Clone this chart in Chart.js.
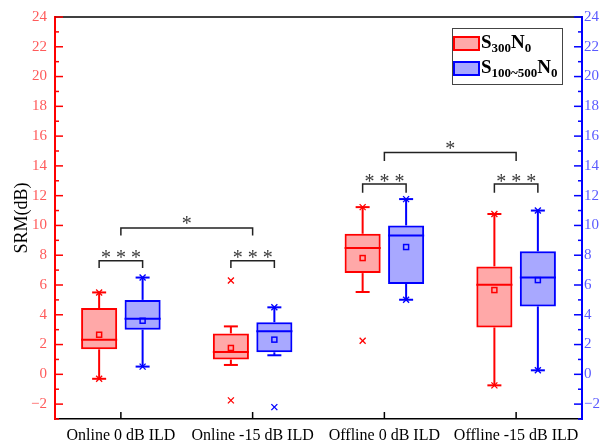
<!DOCTYPE html>
<html>
<head>
<meta charset="utf-8">
<script src="https://cdn.jsdelivr.net/npm/chart.js@4.4.0/dist/chart.umd.min.js"></script>
<style>
  html, body { margin: 0; padding: 0; background: #fff; }
  #wrap { width: 608px; height: 446px; position: relative; }
</style>
</head>
<body>
<div id="wrap"><canvas id="chart"></canvas></div>
<script>
// Categories along x
const categories = ['Online 0 dB ILD', 'Online -15 dB ILD', 'Offline 0 dB ILD', 'Offline -15 dB ILD'];

// S300N0 (red) box statistics
const s300Min    = [-0.30, -1.75, 2.26, -0.74];
const s300Low    = [-0.30, 0.63, 5.53, -0.74];
const s300Q1     = [1.68, 0.99, 6.80, 3.15];
const s300Median = [2.33, 1.50, 8.48, 6.02];
const s300Q3     = [4.45, 2.75, 9.44, 7.25];
const s300High   = [5.50, 3.22, 11.23, 10.77];
const s300Max    = [5.50, 6.30, 11.23, 10.77];
const s300Mean   = [2.66, 1.77, 7.81, 5.66];

// S100~500N0 (blue) box statistics
const s100Min    = [0.52, -2.20, 5.01, 0.27];
const s100Low    = [0.52, 1.28, 5.01, 0.27];
const s100Q1     = [3.00, 1.48, 6.07, 4.56];
const s100Median = [3.73, 2.89, 9.33, 6.51];
const s100Q3     = [5.00, 3.50, 10.00, 8.26];
const s100High   = [6.50, 4.50, 11.77, 11.00];
const s100Max    = [6.50, 4.50, 11.77, 11.00];
const s100Mean   = [3.60, 2.33, 8.55, 6.33];

// y axis range
const yMin = -3;
const yMax = 24;

// significance brackets between the two boxes of one category
const pairCats  = [0, 1, 2, 3];
const pairTop   = [7.63, 7.63, 12.78, 12.78];
const pairLeg   = [7.14, 7.14, 12.20, 12.20];
const pairLabel = ['* * *', '* * *', '* * *', '* * *'];

// significance brackets between two categories
const groupFrom  = [0, 2];
const groupTo    = [1, 3];
const groupTop   = [9.83, 14.90];
const groupLeg   = [9.33, 14.32];
const groupLabel = ['*', '*'];

const RED = '#ff0000';
const BLUE = '#0000ff';
const SERIF = '"Liberation Serif", "Times New Roman", serif';

const series = [
    { color: RED, fill: 'rgba(255,0,0,0.34)', sub: '300',
      min: s300Min, low: s300Low, q1: s300Q1, median: s300Median, q3: s300Q3, high: s300High, max: s300Max, mean: s300Mean },
    { color: BLUE, fill: 'rgba(0,0,255,0.34)', sub: '100~500',
      min: s100Min, low: s100Low, q1: s100Q1, median: s100Median, q3: s100Q3, high: s100High, max: s100Max, mean: s100Mean }
];

function line(ctx, x1, y1, x2, y2) {
    ctx.beginPath();
    ctx.moveTo(x1, y1);
    ctx.lineTo(x2, y2);
    ctx.stroke();
}

function cross(ctx, x, y, r) {
    line(ctx, x - r, y - r, x + r, y + r);
    line(ctx, x - r, y + r, x + r, y - r);
}

function drawStars(ctx, text, x, yCenter) {
    ctx.font = '20px ' + SERIF;
    ctx.fillStyle = '#3a3a3a';
    ctx.textAlign = 'center';
    ctx.textBaseline = 'alphabetic';
    ctx.fillText(text, x, yCenter + 10.5);
}

const boxPlugin = {
    id: 'boxExtras',
    afterDatasetsDraw(chart) {
        const ctx = chart.ctx;
        const y = chart.scales.y;
        series.forEach((s, di) => {
            const meta = chart.getDatasetMeta(di);
            meta.data.forEach((bar, i) => {
                const x = bar.x, half = bar.width / 2;
                ctx.save();
                ctx.strokeStyle = s.color;
                ctx.lineWidth = 2;
                const ym = y.getPixelForValue(s.median[i]);
                line(ctx, x - half, ym, x + half, ym);
                // whiskers
                const yHi = y.getPixelForValue(s.high[i]);
                const yLo = y.getPixelForValue(s.low[i]);
                line(ctx, x, y.getPixelForValue(s.q3[i]), x, yHi);
                line(ctx, x, y.getPixelForValue(s.q1[i]), x, yLo);
                line(ctx, x - 7, yHi, x + 7, yHi);
                line(ctx, x - 7, yLo, x + 7, yLo);
                // min / max markers
                ctx.lineWidth = 1.3;
                cross(ctx, x, y.getPixelForValue(s.min[i]), 3);
                cross(ctx, x, y.getPixelForValue(s.max[i]), 3);
                // mean
                ctx.lineWidth = 1.5;
                const yMean = y.getPixelForValue(s.mean[i]);
                ctx.strokeRect(x - 2.5, yMean - 2.5, 5, 5);
                ctx.restore();
            });
        });
    },
    afterDraw(chart) {
        const ctx = chart.ctx;
        const area = chart.chartArea;
        const y = chart.scales.y;
        const xs = chart.scales.x;
        ctx.save();

        // top frame line
        ctx.strokeStyle = '#000';
        ctx.lineWidth = 1.5;
        line(ctx, area.left, area.top, area.right, area.top);

        // inward ticks on y axes
        ctx.lineWidth = 1.5;
        for (let v = yMin; v <= yMax; v++) {
            const py = y.getPixelForValue(v);
            const len = v % 2 === 0 ? 8 : 4;
            ctx.strokeStyle = RED;
            line(ctx, area.left, py, area.left + len, py);
            ctx.strokeStyle = BLUE;
            line(ctx, area.right, py, area.right - len, py);
        }
        // inward ticks on x axis
        ctx.strokeStyle = '#000';
        categories.forEach((c, i) => {
            const px = xs.getPixelForValue(i);
            line(ctx, px, area.bottom, px, area.bottom - 7);
        });

        // significance brackets
        ctx.strokeStyle = '#222';
        ctx.lineWidth = 1.5;
        const m0 = chart.getDatasetMeta(0), m1 = chart.getDatasetMeta(1);
        pairCats.forEach((c, k) => {
            const x1 = m0.data[c].x, x2 = m1.data[c].x;
            const yt = y.getPixelForValue(pairTop[k]);
            const yl = y.getPixelForValue(pairLeg[k]);
            ctx.beginPath();
            ctx.moveTo(x1, yl); ctx.lineTo(x1, yt); ctx.lineTo(x2, yt); ctx.lineTo(x2, yl);
            ctx.stroke();
            drawStars(ctx, pairLabel[k], (x1 + x2) / 2, yt - 7);
        });
        groupFrom.forEach((c, k) => {
            const x1 = xs.getPixelForValue(c), x2 = xs.getPixelForValue(groupTo[k]);
            const yt = y.getPixelForValue(groupTop[k]);
            const yl = y.getPixelForValue(groupLeg[k]);
            ctx.beginPath();
            ctx.moveTo(x1, yl); ctx.lineTo(x1, yt); ctx.lineTo(x2, yt); ctx.lineTo(x2, yl);
            ctx.stroke();
            drawStars(ctx, groupLabel[k], (x1 + x2) / 2, yt - 8);
        });

        // legend with subscripts
        const lx = area.right - 130, ly = area.top + 11;
        ctx.strokeStyle = '#444';
        ctx.lineWidth = 1;
        ctx.strokeRect(lx + 0.5, ly + 0.5, 110, 56);
        series.forEach((s, i) => {
            const sy = ly + 9 + i * 25;
            ctx.fillStyle = s.fill;
            ctx.fillRect(lx + 2, sy, 25, 13);
            ctx.strokeStyle = s.color;
            ctx.lineWidth = 2;
            ctx.strokeRect(lx + 2, sy, 25, 13);
            let tx = lx + 29;
            const base = sy + 10.5;
            ctx.fillStyle = '#000';
            ctx.textAlign = 'left';
            ctx.textBaseline = 'alphabetic';
            ctx.font = 'bold 19px ' + SERIF;
            ctx.fillText('S', tx, base);
            tx += ctx.measureText('S').width;
            ctx.font = 'bold 13px ' + SERIF;
            ctx.fillText(s.sub, tx, base + 4);
            tx += ctx.measureText(s.sub).width;
            ctx.font = 'bold 19px ' + SERIF;
            ctx.fillText('N', tx, base);
            tx += ctx.measureText('N').width;
            ctx.font = 'bold 13px ' + SERIF;
            ctx.fillText('0', tx, base + 4);
        });
        ctx.restore();
    }
};

function yLabel(v) {
    if (v % 2 !== 0) return '';
    return v < 0 ? '\u2212' + (-v) : String(v);
}

new Chart(document.getElementById('chart'), {
    type: 'bar',
    data: {
        labels: categories,
        datasets: series.map((s, di) => ({
            label: di === 0 ? 'S300N0' : 'S100~500N0',
            data: s.q1.map((q, i) => [q, s.q3[i]]),
            backgroundColor: s.fill,
            borderColor: s.color,
            borderWidth: 2,
            borderSkipped: false,
            categoryPercentage: 0.66,
            barPercentage: 0.83,
            yAxisID: di === 0 ? 'y' : 'y2'
        }))
    },
    options: {
        responsive: true,
        maintainAspectRatio: false,
        animation: false,
        layout: { padding: { top: 17, left: 0, right: 0, bottom: 0 } },
        plugins: {
            legend: { display: false },
            tooltip: { enabled: false }
        },
        scales: {
            x: {
                grid: { display: false, drawTicks: false },
                border: { display: true, color: '#000', width: 1.5 },
                ticks: { color: '#000', font: { family: SERIF, size: 16 }, padding: 7, maxRotation: 0 },
                afterFit: s => { s.height = 27; }
            },
            y: {
                position: 'left',
                min: yMin, max: yMax,
                grid: { display: false, drawTicks: false },
                border: { display: true, color: RED, width: 2 },
                ticks: { stepSize: 1, autoSkip: false, color: '#ff5a5a', font: { family: SERIF, size: 15 }, padding: 8, callback: yLabel },
                title: { display: true, text: 'SRM(dB)', color: '#000', font: { family: SERIF, size: 18 }, padding: { top: 11, bottom: 0 } },
                afterFit: s => { s.width = 55; }
            },
            y2: {
                position: 'right',
                min: yMin, max: yMax,
                grid: { display: false, drawTicks: false },
                border: { display: true, color: BLUE, width: 2 },
                ticks: { stepSize: 1, autoSkip: false, color: '#5a5aff', font: { family: SERIF, size: 15 }, padding: 2, callback: yLabel },
                afterFit: s => { s.width = 26; }
            }
        }
    },
    plugins: [boxPlugin]
});
</script>
</body>
</html>
